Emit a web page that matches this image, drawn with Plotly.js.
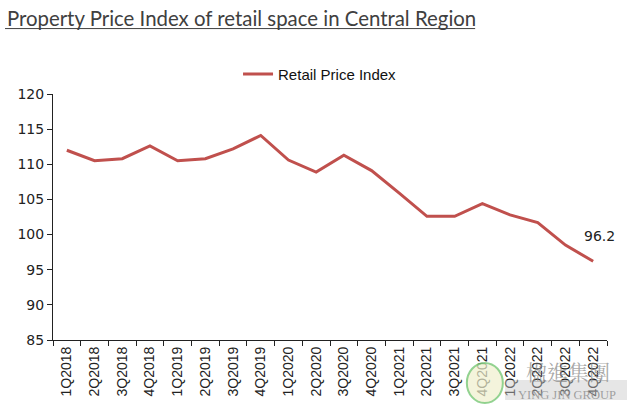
<!DOCTYPE html>
<html>
<head>
<meta charset="utf-8">
<script src="https://cdn.plot.ly/plotly-3.0.1.min.js"></script>
<style>html,body{margin:0;padding:0;background:#fff;}#chart{width:627px;height:413px;}</style>
</head>
<body>
<div id="chart"></div>
<script>
const quarters = ["1Q2018","2Q2018","3Q2018","4Q2018","1Q2019","2Q2019","3Q2019","4Q2019",
  "1Q2020","2Q2020","3Q2020","4Q2020","1Q2021","2Q2021","3Q2021","4Q2021",
  "1Q2022","2Q2022","3Q2022","4Q2022"];
const retailIndex = [112.0,110.5,110.8,112.6,110.5,110.8,112.2,114.1,
  110.6,108.9,111.3,109.1,105.9,102.6,102.6,104.4,
  102.8,101.7,98.5,96.2];
const seriesName = "Retail Price Index";
const chartTitle = "Property Price Index of retail space in Central Region";
const lastLabel = "96.2";

const trace = {
  x: quarters, y: retailIndex, type: "scatter", mode: "lines", name: seriesName,
  line: {color: "#C0504D", width: 3}
};

const layout = {
  width: 627, height: 413,
  margin: {l: 53, r: 20, t: 94, b: 73},
  paper_bgcolor: "#fff", plot_bgcolor: "#fff",
  title: {text: chartTitle, x: 0.011, xanchor: "left", y: 0.955, yanchor: "middle",
    font: {family: "Lato, 'Open Sans', sans-serif", size: 20.4, color: "#404040"}},
  showlegend: true,
  legend: {x: 0.334, xanchor: "left", y: 1.08, yanchor: "middle", orientation: "h",
    font: {family: "'Liberation Sans', Arial, sans-serif", size: 15, color: "#111"},
    itemwidth: 30, bgcolor: "rgba(0,0,0,0)"},
  xaxis: {type: "category", showline: true, linecolor: "#222", linewidth: 1,
    ticks: "outside", ticklen: 5, tickcolor: "#222", tickson: "boundaries",
    showgrid: false, zeroline: false, tickangle: -90,
    tickfont: {family: "'Liberation Sans', Arial, sans-serif", size: 14, color: "#222"},
    range: [-0.5, 19.5]},
  yaxis: {range: [85, 120], dtick: 5, showline: true, linecolor: "#222", linewidth: 1,
    ticks: "outside", ticklen: 5, tickcolor: "#222", showgrid: false, zeroline: false,
    tickfont: {family: "'DejaVu Sans', sans-serif", size: 14, color: "#222"}},
  shapes: [
    {type: "line", xref: "paper", yref: "paper", x0: -0.0866, x1: 0.762, y0: 1.266, y1: 1.266,
     line: {color: "#404040", width: 1}},
    {type: "rect", xref: "paper", yref: "paper", x0: 0.816, x1: 1.04, y0: -0.163, y1: -0.244,
     fillcolor: "rgba(200,200,200,0.45)", line: {width: 0}},
    {type: "circle", xref: "paper", yref: "paper", x0: 0.747, x1: 0.812, y0: -0.093, y1: -0.256,
     fillcolor: "rgba(240,240,205,0.7)", line: {color: "rgba(120,200,120,0.8)", width: 2}}
  ],
  annotations: [
    {x: quarters[quarters.length - 1], y: retailIndex[retailIndex.length - 1], text: lastLabel,
     showarrow: false, xshift: 6, yshift: 25,
     font: {family: "'DejaVu Sans', sans-serif", size: 14, color: "#222"}},
    {xref: "paper", yref: "paper", x: 0.93, y: -0.125, xanchor: "center", yanchor: "middle",
     text: "楹進集團", showarrow: false,
     font: {family: "'Noto Serif CJK TC','Noto Sans CJK TC', serif", size: 21, color: "rgba(140,140,140,0.75)"}},
    {xref: "paper", yref: "paper", x: 0.928, y: -0.222, xanchor: "center", yanchor: "middle",
     text: "YING JIN GROUP", showarrow: false,
     font: {family: "'Liberation Serif', serif", size: 12.5, color: "rgba(150,150,150,0.9)"}}
  ]
};

Plotly.newPlot("chart", [trace], layout, {displayModeBar: false, staticPlot: true});
</script>
</body>
</html>
